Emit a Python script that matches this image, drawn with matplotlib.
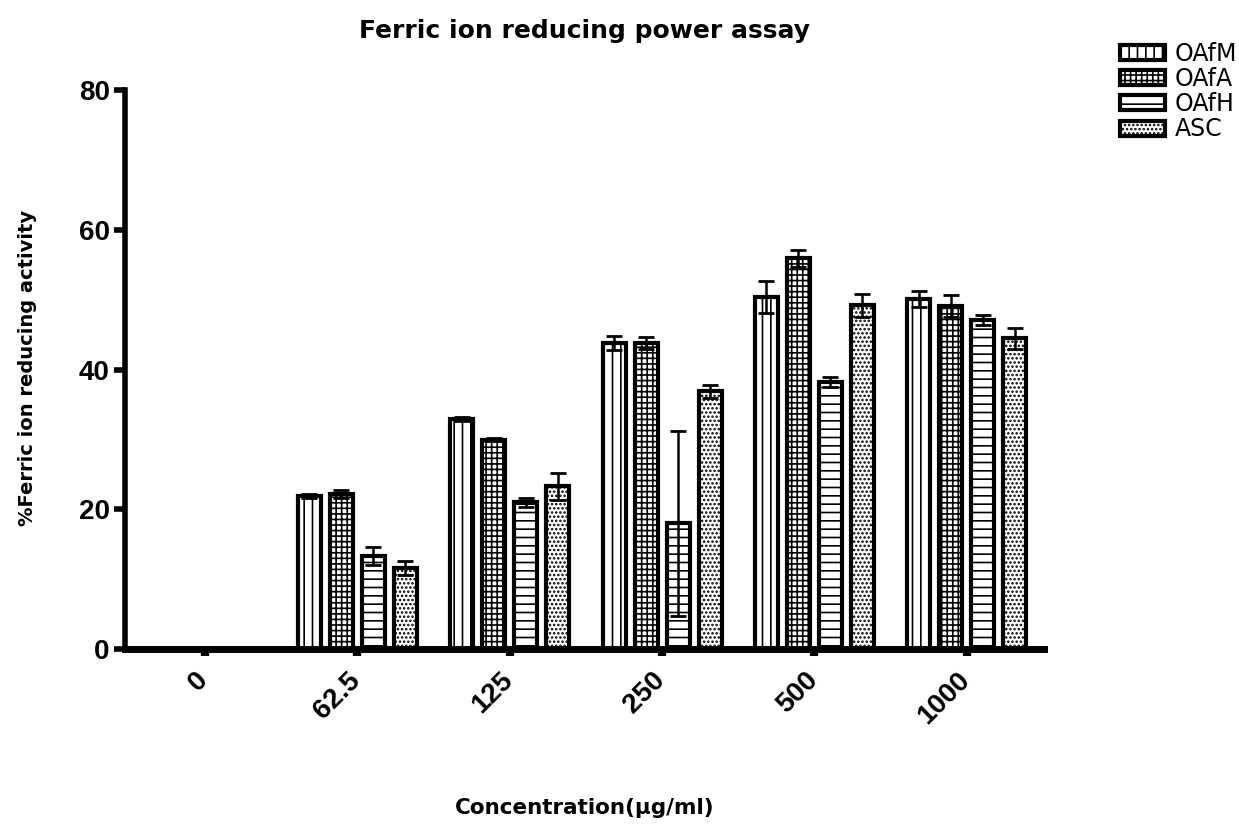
import numpy as np
import matplotlib.pyplot as plt
from matplotlib.transforms import ScaledTranslation

# concentrations (ug/ml) and mean % activity with error for each extract
concentrations = ["0", "62.5", "125", "250", "500", "1000"]
series_names = ["OAfM", "OAfA", "OAfH", "ASC"]

oafm = [0, 21.9, 32.9, 43.8, 50.4, 50.1]
oafa = [0, 22.2, 30.0, 43.8, 55.9, 49.1]
oafh = [0, 13.3, 21.0, 18.0, 38.2, 47.1]
asc = [0, 11.6, 23.3, 36.9, 49.2, 44.5]

oafm_err = [0, 0.3, 0.3, 1.0, 2.3, 1.2]
oafa_err = [0, 0.6, 0.2, 0.9, 1.2, 1.6]
oafh_err = [0, 1.3, 0.7, 13.2, 0.7, 0.7]
asc_err = [0, 1.0, 1.9, 0.9, 1.6, 1.5]

values = [oafm, oafa, oafh, asc]
errors = [oafm_err, oafa_err, oafh_err, asc_err]
hatches = ["||", "+++", "--", "...."]

plt.rcParams["font.family"] = ["Liberation Sans", "DejaVu Sans"]
plt.rcParams["hatch.linewidth"] = 1.2

fig = plt.figure(figsize=(12.39, 8.26), dpi=100)
ax = fig.add_axes([0.101, 0.214, 0.742, 0.677])

x = np.arange(len(concentrations))
width = 0.15
pitch = 0.21

for i, (vals, errs, h, name) in enumerate(zip(values, errors, hatches, series_names)):
    pos = x + (i - 1.5) * pitch
    v = np.array(vals, dtype=float)
    e = np.array(errs, dtype=float)
    mask = v > 0
    ax.bar(pos[mask], v[mask], width, color="white", edgecolor="black",
           linewidth=3, hatch=h, label=name, zorder=2)
    ax.errorbar(pos[mask], v[mask], yerr=e[mask], fmt="none", ecolor="black",
                elinewidth=1.8, capsize=6, capthick=2, zorder=3)

ax.set_xlim(-0.525, 5.51)
ax.set_ylim(0, 80)
ax.set_yticks([0, 20, 40, 60, 80])
ax.set_xticks(x)
ax.set_xticklabels(concentrations, rotation=45, ha="right", rotation_mode="anchor")

for side in ["top", "right"]:
    ax.spines[side].set_visible(False)
ax.spines["left"].set_linewidth(4)
ax.spines["bottom"].set_linewidth(5)
ax.tick_params(axis="y", direction="out", width=4, length=8, labelsize=20, pad=3)
ax.tick_params(axis="x", direction="out", width=6, length=5, labelsize=20, pad=8)

# nudge the rotated labels so their ends sit under the ticks
shift = ScaledTranslation(-0.1, 0.0, fig.dpi_scale_trans)
for lbl in ax.get_xticklabels():
    lbl.set_fontweight("bold")
    lbl.set_transform(lbl.get_transform() + shift)
for lbl in ax.get_yticklabels():
    lbl.set_fontweight("bold")

label_font = ["DejaVu Sans"]
fig.text(0.472, 0.963, "Ferric ion reducing power assay", ha="center", va="center",
         fontsize=18, fontweight="bold", family=label_font)
fig.text(0.022, 0.555, "%Ferric ion reducing activity", rotation=90, ha="center",
         va="center", fontsize=14, fontweight="bold", family=label_font)
fig.text(0.472, 0.022, "Concentration(\u03bcg/ml)", ha="center", va="center",
         fontsize=15.5, fontweight="bold", family=label_font)

leg = ax.legend(loc="upper left", bbox_to_anchor=(1.072, 1.103), frameon=False,
                prop={"family": label_font, "size": 17}, handlelength=1.9,
                handleheight=0.6, labelspacing=0.05, handletextpad=0.4,
                borderaxespad=0)

fig.savefig("out.png", dpi=100)
